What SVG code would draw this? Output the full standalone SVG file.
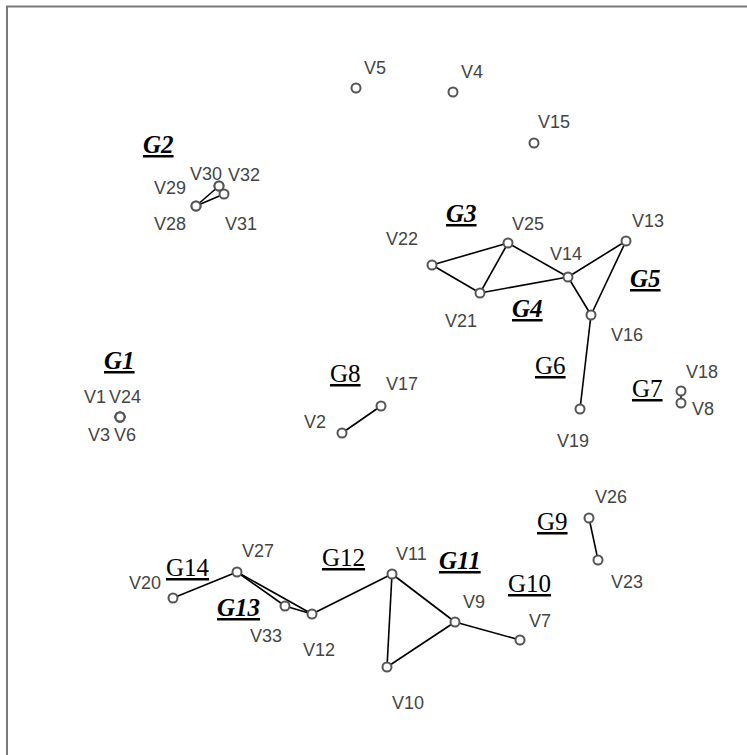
<svg xmlns="http://www.w3.org/2000/svg" width="747" height="755" viewBox="0 0 747 755">
<style>
.n{fill:#fff;stroke:#555;stroke-width:2}
.e{stroke:#000;stroke-width:1.6;fill:none}
.v{font-family:"Liberation Sans",Arial,sans-serif;font-size:18px;fill:#444}
.g{font-family:"Liberation Serif","Times New Roman",serif;font-size:25px;fill:#000;text-decoration:underline}
.gb{font-weight:bold;font-style:italic}
</style>
<rect x="0" y="0" width="747" height="755" fill="#fff"/>
<rect x="7" y="6.5" width="760" height="760" fill="#fff" stroke="#7a7a7a" stroke-width="2"/>
<g id="connectors">
<line class="e" x1="196" y1="206" x2="219" y2="186"/>
<line class="e" x1="196" y1="206" x2="224" y2="194"/>
<line class="e" x1="219" y1="186" x2="224" y2="194"/>
<line class="e" x1="432" y1="265" x2="508" y2="243"/>
<line class="e" x1="432" y1="265" x2="480" y2="293"/>
<line class="e" x1="480" y1="293" x2="508" y2="243"/>
<line class="e" x1="508" y1="243" x2="568" y2="277"/>
<line class="e" x1="480" y1="293" x2="568" y2="277"/>
<line class="e" x1="568" y1="277" x2="626" y2="241"/>
<line class="e" x1="568" y1="277" x2="591" y2="315"/>
<line class="e" x1="626" y1="241" x2="591" y2="315"/>
<line class="e" x1="591" y1="315" x2="580" y2="409"/>
<line class="e" x1="681" y1="391" x2="681" y2="403"/>
<line class="e" x1="342" y1="433" x2="381" y2="406"/>
<line class="e" x1="589" y1="518" x2="598" y2="560"/>
<line class="e" x1="173" y1="598" x2="237" y2="572"/>
<line class="e" x1="237" y1="572" x2="312" y2="614"/>
<line class="e" x1="237" y1="572" x2="285" y2="606"/>
<line class="e" x1="285" y1="606" x2="312" y2="614"/>
<line class="e" x1="312" y1="614" x2="392" y2="574"/>
<line class="e" x1="392" y1="574" x2="387" y2="667"/>
<line class="e" x1="392" y1="574" x2="455" y2="622"/>
<line class="e" x1="387" y1="667" x2="455" y2="622"/>
<line class="e" x1="455" y1="622" x2="520" y2="640"/>
</g>
<g id="V5"><circle class="n" cx="356" cy="88" r="4.5"/><text class="v" x="364" y="74">V5</text></g>
<g id="V4"><circle class="n" cx="453" cy="92" r="4.5"/><text class="v" x="461" y="78">V4</text></g>
<g id="V15"><circle class="n" cx="534" cy="143" r="4.5"/><text class="v" x="538" y="128">V15</text></g>
<g id="V28"><circle class="n" cx="196" cy="206" r="4.5"/><text class="v" x="154" y="230">V28</text></g>
<g id="V29"><circle class="n" cx="196" cy="206" r="4.5"/><text class="v" x="154" y="194">V29</text></g>
<g id="V30"><circle class="n" cx="219" cy="186" r="4.5"/><text class="v" x="190" y="180">V30</text></g>
<g id="V32"><circle class="n" cx="219" cy="186" r="4.5"/><text class="v" x="228" y="181">V32</text></g>
<g id="V31"><circle class="n" cx="224" cy="194" r="4.5"/><text class="v" x="225" y="230">V31</text></g>
<g id="V22"><circle class="n" cx="432" cy="265" r="4.5"/><text class="v" x="386" y="245">V22</text></g>
<g id="V25"><circle class="n" cx="508" cy="243" r="4.5"/><text class="v" x="512" y="230">V25</text></g>
<g id="V21"><circle class="n" cx="480" cy="293" r="4.5"/><text class="v" x="445" y="327">V21</text></g>
<g id="V14"><circle class="n" cx="568" cy="277" r="4.5"/><text class="v" x="550" y="260">V14</text></g>
<g id="V13"><circle class="n" cx="626" cy="241" r="4.5"/><text class="v" x="632" y="227">V13</text></g>
<g id="V16"><circle class="n" cx="591" cy="315" r="4.5"/><text class="v" x="611" y="341">V16</text></g>
<g id="V19"><circle class="n" cx="580" cy="409" r="4.5"/><text class="v" x="557" y="447">V19</text></g>
<g id="V18"><circle class="n" cx="681" cy="391" r="4.5"/><text class="v" x="686" y="378">V18</text></g>
<g id="V8"><circle class="n" cx="681" cy="403" r="4.5"/><text class="v" x="692" y="415">V8</text></g>
<g id="V1"><circle class="n" cx="120" cy="417" r="4.5"/><text class="v" x="84" y="403">V1</text></g>
<g id="V24"><circle class="n" cx="120" cy="417" r="4.5"/><text class="v" x="109" y="403">V24</text></g>
<g id="V3"><circle class="n" cx="120" cy="417" r="4.5"/><text class="v" x="88" y="441">V3</text></g>
<g id="V6"><circle class="n" cx="120" cy="417" r="4.5"/><text class="v" x="114" y="441">V6</text></g>
<g id="V17"><circle class="n" cx="381" cy="406" r="4.5"/><text class="v" x="386" y="390">V17</text></g>
<g id="V2"><circle class="n" cx="342" cy="433" r="4.5"/><text class="v" x="304" y="428">V2</text></g>
<g id="V26"><circle class="n" cx="589" cy="518" r="4.5"/><text class="v" x="595" y="503">V26</text></g>
<g id="V23"><circle class="n" cx="598" cy="560" r="4.5"/><text class="v" x="611" y="588">V23</text></g>
<g id="V27"><circle class="n" cx="237" cy="572" r="4.5"/><text class="v" x="242" y="557">V27</text></g>
<g id="V20"><circle class="n" cx="173" cy="598" r="4.5"/><text class="v" x="129" y="589">V20</text></g>
<g id="V33"><circle class="n" cx="285" cy="606" r="4.5"/><text class="v" x="250" y="642">V33</text></g>
<g id="V12"><circle class="n" cx="312" cy="614" r="4.5"/><text class="v" x="303" y="656">V12</text></g>
<g id="V11"><circle class="n" cx="392" cy="574" r="4.5"/><text class="v" x="396" y="560">V11</text></g>
<g id="V9"><circle class="n" cx="455" cy="622" r="4.5"/><text class="v" x="463" y="608">V9</text></g>
<g id="V7"><circle class="n" cx="520" cy="640" r="4.5"/><text class="v" x="529" y="627">V7</text></g>
<g id="V10"><circle class="n" cx="387" cy="667" r="4.5"/><text class="v" x="392" y="709">V10</text></g>
<g id="G1"><text class="g gb" x="104" y="369">G1</text></g>
<g id="G2"><text class="g gb" x="143" y="153">G2</text></g>
<g id="G3"><text class="g gb" x="446" y="222">G3</text></g>
<g id="G4"><text class="g gb" x="512" y="317">G4</text></g>
<g id="G5"><text class="g gb" x="630" y="287">G5</text></g>
<g id="G6"><text class="g" x="535" y="374">G6</text></g>
<g id="G7"><text class="g" x="632" y="397">G7</text></g>
<g id="G8"><text class="g" x="330" y="382">G8</text></g>
<g id="G9"><text class="g" x="537" y="530">G9</text></g>
<g id="G10"><text class="g" x="508" y="592">G10</text></g>
<g id="G11"><text class="g gb" x="439" y="569">G11</text></g>
<g id="G12"><text class="g" x="322" y="566">G12</text></g>
<g id="G13"><text class="g gb" x="217" y="616">G13</text></g>
<g id="G14"><text class="g" x="166" y="576">G14</text></g>
</svg>
